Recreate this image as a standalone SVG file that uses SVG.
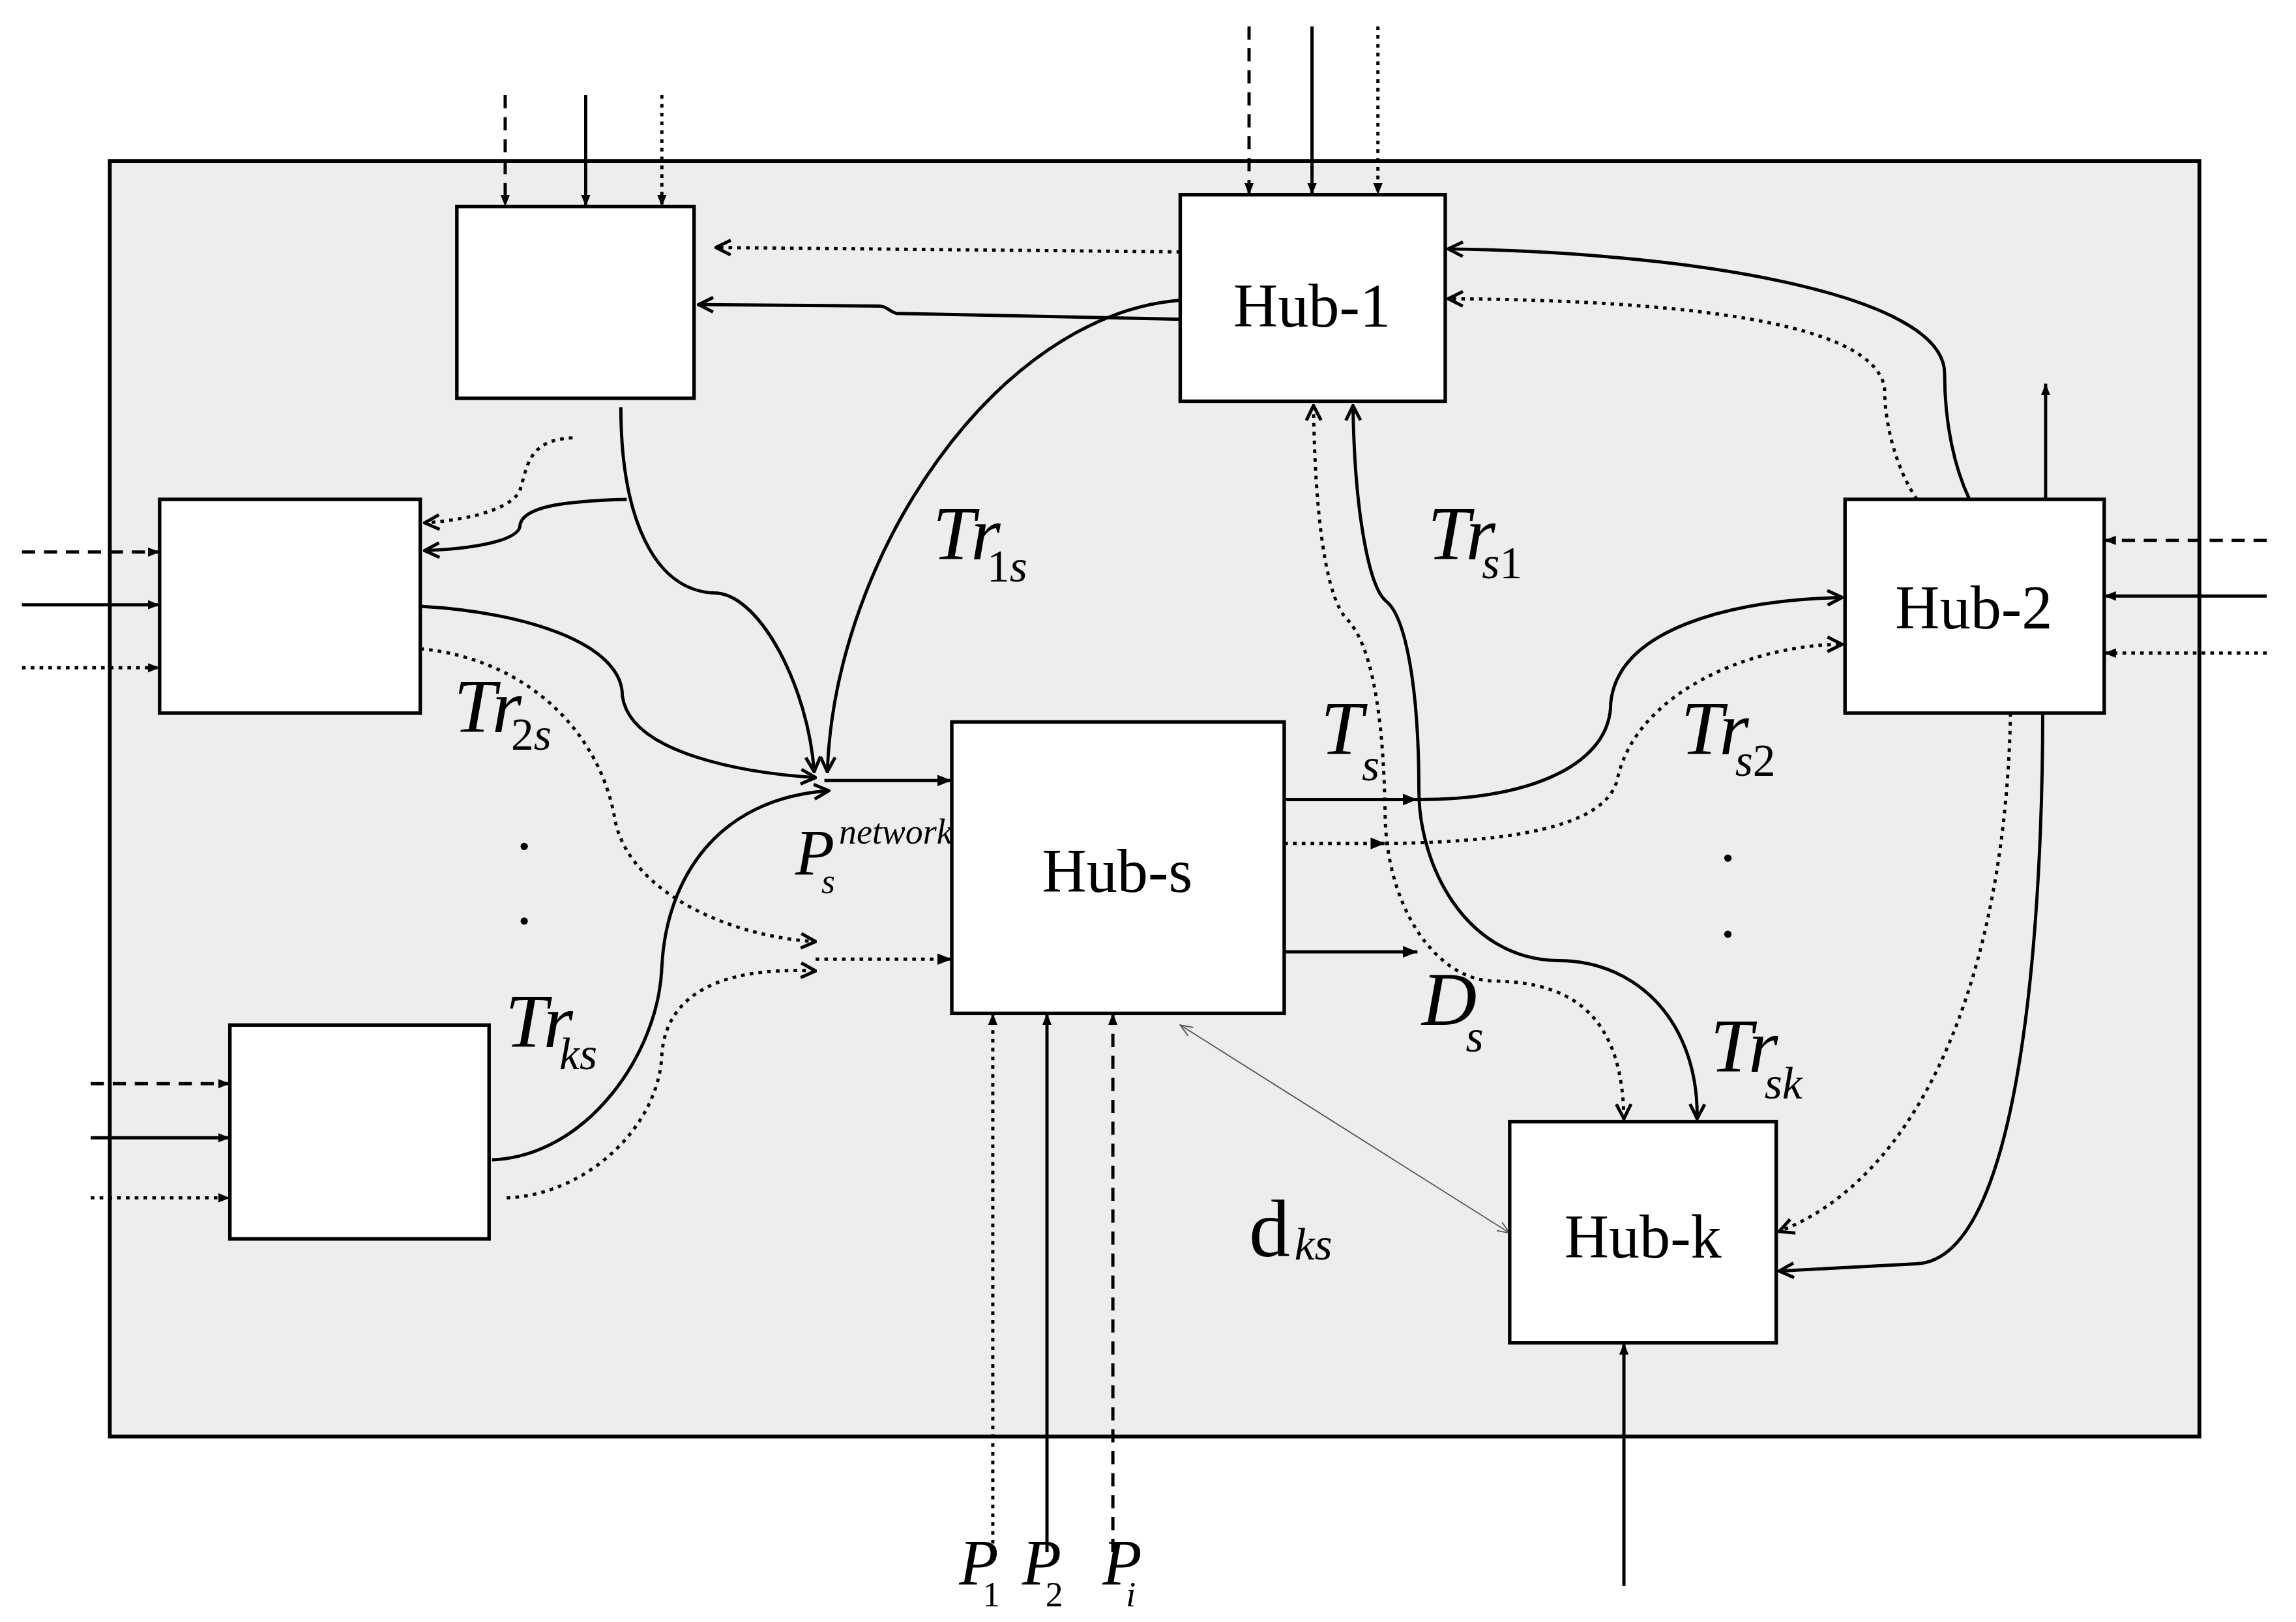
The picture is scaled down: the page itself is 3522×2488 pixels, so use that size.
<svg xmlns="http://www.w3.org/2000/svg" width="3522" height="2488" viewBox="0 0 3522 2488">
<style>
.box{fill:#fff;stroke:#000;stroke-width:2.4}
.ln{fill:none;stroke:#000;stroke-width:2.2}
.dash{stroke-dasharray:9 6}
.dot{stroke-dasharray:2.5 3.5}
.hub{font-family:"Liberation Serif",serif;font-size:42px;text-anchor:middle}
.it{font-family:"Liberation Serif",serif;font-style:italic}
.big{font-size:52px}
.sub{font-size:31px}
.up{font-style:normal}
</style>
<defs>
<marker id="tri" viewBox="0 0 10 10" refX="10" refY="5" markerWidth="8" markerHeight="8" orient="auto-start-reverse" markerUnits="userSpaceOnUse"><path d="M0,1 L10,5 L0,9 Z" fill="#000"/></marker>
<marker id="tri2" viewBox="0 0 10 10" refX="10" refY="5" markerWidth="10" markerHeight="10" orient="auto-start-reverse" markerUnits="userSpaceOnUse"><path d="M0,1 L10,5 L0,9 Z" fill="#000"/></marker>
<marker id="chev" viewBox="0 0 12 12" refX="11" refY="6" markerWidth="12" markerHeight="12" orient="auto-start-reverse" markerUnits="userSpaceOnUse"><path d="M1,1 L11,6 L1,11" fill="none" stroke="#000" stroke-width="2.2"/></marker>
<marker id="thin" viewBox="0 0 12 12" refX="11" refY="6" markerWidth="10" markerHeight="10" orient="auto-start-reverse" markerUnits="userSpaceOnUse"><path d="M1,2 L11,6 L1,10" fill="none" stroke="#555" stroke-width="1"/></marker>
</defs>
<rect width="3522" height="2488" fill="#fff"/>
<g transform="scale(2.2462)">
<rect x="75" y="110" width="1427" height="871" fill="#ededed" stroke="#000" stroke-width="2.6"/>

<g id="connectors">
<line class="ln dash" x1="345" y1="65" x2="345" y2="141" marker-end="url(#tri)"/>
<line class="ln" x1="400" y1="65" x2="400" y2="141" marker-end="url(#tri)"/>
<line class="ln dot" x1="452" y1="65" x2="452" y2="141" marker-end="url(#tri)"/>
<line class="ln dash" x1="853" y1="18" x2="853" y2="133" marker-end="url(#tri)"/>
<line class="ln" x1="896" y1="18" x2="896" y2="133" marker-end="url(#tri)"/>
<line class="ln dot" x1="941" y1="18" x2="941" y2="133" marker-end="url(#tri)"/>
<line class="ln dash" x1="15" y1="377" x2="109" y2="377" marker-end="url(#tri)"/>
<line class="ln" x1="15" y1="413" x2="109" y2="413" marker-end="url(#tri)"/>
<line class="ln dot" x1="15" y1="456" x2="109" y2="456" marker-end="url(#tri)"/>
<line class="ln dash" x1="62" y1="740" x2="157" y2="740" marker-end="url(#tri)"/>
<line class="ln" x1="62" y1="777" x2="157" y2="777" marker-end="url(#tri)"/>
<line class="ln dot" x1="62" y1="818" x2="157" y2="818" marker-end="url(#tri)"/>
<line class="ln dash" x1="1548" y1="369" x2="1437" y2="369" marker-end="url(#tri)"/>
<line class="ln" x1="1548" y1="407" x2="1437" y2="407" marker-end="url(#tri)"/>
<line class="ln dot" x1="1548" y1="446" x2="1437" y2="446" marker-end="url(#tri)"/>
<line class="ln" x1="1397" y1="341" x2="1397" y2="262" marker-end="url(#tri)"/>
<line class="ln" x1="1109" y1="1083" x2="1109" y2="917" marker-end="url(#tri)"/>
<line class="ln dot" x1="678" y1="1060" x2="678" y2="692" marker-end="url(#tri)"/>
<line class="ln" x1="715" y1="1060" x2="715" y2="692" marker-end="url(#tri)"/>
<line class="ln dash" x1="760" y1="1060" x2="760" y2="692" marker-end="url(#tri)"/>
<line class="ln dot" x1="806" y1="172" x2="489" y2="169" marker-end="url(#chev)"/>
<path class="ln" d="M806,218 L612,214 C606,212 606,209 600,209 L477,208" marker-end="url(#chev)"/>
<path class="ln" d="M806,205 C680,215 570,380 565,527" marker-end="url(#chev)"/>
<path class="ln" d="M424,278 C424,350 445,405 490,405 C520,408 552,470 556,527" marker-end="url(#chev)"/>
<path class="ln" d="M428,341 C390,342 355,345 355,360 C352,370 320,375 290,376" marker-end="url(#chev)"/>
<path class="ln dot" d="M391,299 C360,300 360,320 355,335 C348,350 310,356 290,357" marker-end="url(#chev)"/>
<path class="ln" d="M287,414 C360,418 425,440 425,475 C430,515 510,528 557,531" marker-end="url(#chev)"/>
<path class="ln dot" d="M287,443 C360,450 410,500 420,560 C430,610 500,640 557,643" marker-end="url(#chev)"/>
<line class="ln" x1="563" y1="533" x2="650" y2="533" marker-end="url(#tri2)"/>
<line class="ln dot" x1="557" y1="655" x2="650" y2="655" marker-end="url(#tri2)"/>
<path class="ln" d="M336,792 C400,790 450,720 452,660 C455,600 490,545 566,540" marker-end="url(#chev)"/>
<path class="ln dot" d="M346,818 C400,816 450,770 452,720 C455,680 490,660 557,663" marker-end="url(#chev)"/>
<line class="ln" x1="877" y1="546" x2="968" y2="546" marker-end="url(#tri2)"/>
<path class="ln" d="M968,546 C1050,546 1100,520 1100,480 C1105,430 1180,410 1258,408" marker-end="url(#chev)"/>
<line class="ln dot" x1="877" y1="576" x2="946" y2="576" marker-end="url(#tri2)"/>
<path class="ln dot" d="M946,576 C1050,575 1100,560 1105,530 C1120,470 1200,440 1258,440" marker-end="url(#chev)"/>
<line class="ln" x1="877" y1="650" x2="968" y2="650" marker-end="url(#tri2)"/>
<path class="ln" d="M1159,764 C1160,700 1120,656 1064,656 C1000,655 969,590 969,540 C969,470 960,420 946,410 C935,400 925,350 924,277" marker-start="url(#chev)" marker-end="url(#chev)"/>
<path class="ln dot" d="M1109,764 C1108,700 1080,670 1019,670 C980,668 948,620 946,560 C945,480 935,440 921,424 C905,410 898,350 897,277" marker-start="url(#chev)" marker-end="url(#chev)"/>
<path class="ln" d="M1345,341 C1335,320 1328,290 1328,255 C1328,200 1150,172 989,170" marker-end="url(#chev)"/>
<path class="ln dot" d="M1309,341 C1295,320 1287,290 1287,265 C1280,220 1150,205 989,204" marker-end="url(#chev)"/>
<path class="ln" d="M1395,487 C1395,600 1385,860 1309,863 L1215,868" marker-end="url(#chev)"/>
<path class="ln dot" d="M1373,487 C1370,650 1320,800 1215,841" marker-end="url(#chev)"/>
<line x1="806" y1="700" x2="1031" y2="842" stroke="#555" stroke-width="0.8" marker-start="url(#thin)" marker-end="url(#thin)"/>
</g>

<g id="boxA"><rect class="box" x="312" y="141" width="162" height="131"/></g>
<g id="boxB"><rect class="box" x="109" y="341" width="178" height="146"/></g>
<g id="boxC"><rect class="box" x="157" y="700" width="177" height="146"/></g>
<g id="hub1"><rect class="box" x="806" y="133" width="181" height="141"/><text class="hub" x="896" y="223">Hub-1</text></g>
<g id="hub2"><rect class="box" x="1260" y="341" width="177" height="146"/><text class="hub" x="1348" y="429">Hub-2</text></g>
<g id="hubs"><rect class="box" x="650" y="493" width="227" height="199"/><text class="hub" x="763" y="609">Hub-s</text></g>
<g id="hubk"><rect class="box" x="1031" y="766" width="182" height="151"/><text class="hub" x="1122" y="859">Hub-k</text></g>

<g id="labels">
<circle cx="358" cy="578" r="2.5"/><circle cx="358" cy="629" r="2.5"/>
<circle cx="1180" cy="586" r="2.5"/><circle cx="1180" cy="638" r="2.5"/>
<text class="it big" x="637" y="382">Tr</text><text class="it sub" x="674" y="397"><tspan class="up">1</tspan>s</text>
<text class="it big" x="310" y="500">Tr</text><text class="it sub" x="349" y="512"><tspan class="up">2</tspan>s</text>
<text class="it big" x="345" y="715">Tr</text><text class="it sub" x="382" y="730">ks</text>
<text class="it big" x="975" y="382">Tr</text><text class="it sub" x="1012" y="395">s<tspan class="up">1</tspan></text>
<text class="it big" x="902" y="515">T</text><text class="it sub" x="930" y="533">s</text>
<text class="it big" x="1148" y="515">Tr</text><text class="it sub" x="1185" y="530">s<tspan class="up">2</tspan></text>
<text class="it big" x="971" y="700">D</text><text class="it sub" x="1001" y="718">s</text>
<text class="it big" x="1168" y="732">Tr</text><text class="it sub" x="1205" y="750">sk</text>
<text class="it" font-size="44" x="543" y="597">P</text><text class="it" font-size="24" x="561" y="610">s</text><text class="it" font-size="24" x="573" y="576">network</text>
<text class="up" font-family="Liberation Serif,serif" font-size="56" x="853" y="858">d</text><text class="it sub" x="884" y="860">ks</text>
<text class="it" font-size="44" x="655" y="1082">P</text><text font-family="Liberation Serif,serif" font-size="24" x="671" y="1097">1</text>
<text class="it" font-size="44" x="698" y="1082">P</text><text font-family="Liberation Serif,serif" font-size="24" x="714" y="1097">2</text>
<text class="it" font-size="44" x="753" y="1082">P</text><text class="it" font-size="24" x="769" y="1097">i</text>
</g>
</g>
</svg>
